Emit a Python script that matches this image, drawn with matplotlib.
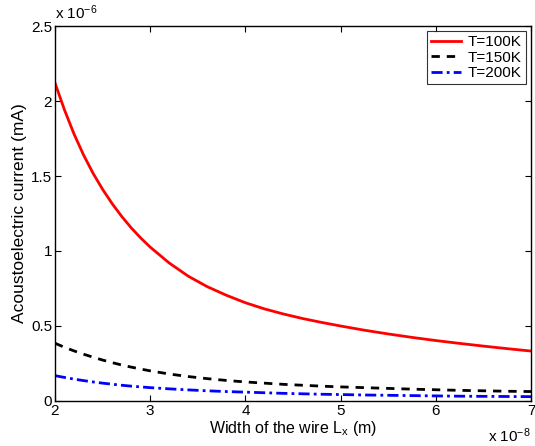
import matplotlib
matplotlib.use("Agg")
import matplotlib.pyplot as plt

plt.rcParams['font.family'] = ['Liberation Sans', 'DejaVu Sans']
plt.rcParams['mathtext.fontset'] = 'custom'
plt.rcParams['mathtext.rm'] = 'Liberation Sans'
plt.rcParams['mathtext.it'] = 'Liberation Sans'

# width of the wire, in units of 1e-8 m
width_1e8 = [2.0, 2.1, 2.2, 2.3, 2.4, 2.5, 2.6, 2.7, 2.8, 2.9, 3.0,
             3.2, 3.4, 3.6, 3.8, 4.0, 4.2, 4.4, 4.6, 4.8, 5.0,
             5.25, 5.5, 5.75, 6.0, 6.25, 6.5, 6.75, 7.0]
# acoustoelectric current, in units of 1e-6 mA
current_100K = [2.12, 1.94, 1.78, 1.64, 1.518, 1.411, 1.316, 1.231, 1.155, 1.087, 1.026,
                0.92, 0.832, 0.762, 0.705, 0.655, 0.614, 0.58, 0.55, 0.524, 0.50,
                0.472, 0.447, 0.424, 0.403, 0.384, 0.366, 0.349, 0.333]
current_150K = [0.385, 0.358, 0.334, 0.312, 0.292, 0.273, 0.256, 0.24, 0.226, 0.213, 0.201,
                0.18, 0.163, 0.149, 0.137, 0.127, 0.119, 0.111, 0.105, 0.099, 0.094,
                0.089, 0.084, 0.079, 0.075, 0.071, 0.068, 0.065, 0.063]
current_200K = [0.169, 0.157, 0.146, 0.136, 0.127, 0.119, 0.112, 0.105, 0.099, 0.094, 0.089,
                0.081, 0.074, 0.068, 0.063, 0.059, 0.055, 0.051, 0.048, 0.045, 0.043,
                0.040, 0.038, 0.036, 0.034, 0.032, 0.031, 0.030, 0.029]

fig = plt.figure(figsize=(5.35, 4.46), dpi=100)
ax = fig.add_axes([0.1028, 0.1009, 0.8897, 0.8408])

ax.plot(width_1e8, current_100K, color='r', lw=2, ls='-', label='T=100K')
ax.plot(width_1e8, current_150K, color='k', lw=2, ls=(0, (3, 2.5)), label='T=150K')
ax.plot(width_1e8, current_200K, color='b', lw=2, ls=(0, (4, 1.5, 1, 1.5)), label='T=200K')

ax.set_xlim(2, 7)
ax.set_ylim(0, 2.5)
ax.set_xticks([2, 3, 4, 5, 6, 7])
ax.set_xticklabels(['2', '3', '4', '5', '6', '7'])
ax.set_yticks([0, 0.5, 1, 1.5, 2, 2.5])
ax.set_yticklabels(['0', '0.5', '1', '1.5', '2', '2.5'])
ax.tick_params(direction='in', length=4, width=0.8, labelsize=11,
               top=True, right=True, pad=2)
for s in ax.spines.values():
    s.set_linewidth(1.0)

ax.set_xlabel('Width of the wire L$_\\mathrm{x}$ (m)', fontsize=11.5, labelpad=1)
ax.set_ylabel('Acoustoelectric current (mA)', fontsize=12.5, labelpad=3)

ax.text(0.0, 1.012, 'x 10$^{-6}$', transform=ax.transAxes, fontsize=11,
        ha='left', va='bottom')
fig.text(531 / 535, 4 / 446, 'x 10$^{-8}$', fontsize=11,
         ha='right', va='baseline')

leg = ax.legend(loc='upper right', fontsize=11, frameon=True, fancybox=False,
                handlelength=2.0, handletextpad=0.45, borderpad=0.25,
                labelspacing=0.1, borderaxespad=0.35)
leg.get_frame().set_edgecolor('k')
leg.get_frame().set_linewidth(0.8)

fig.savefig('out.png', dpi=100)
